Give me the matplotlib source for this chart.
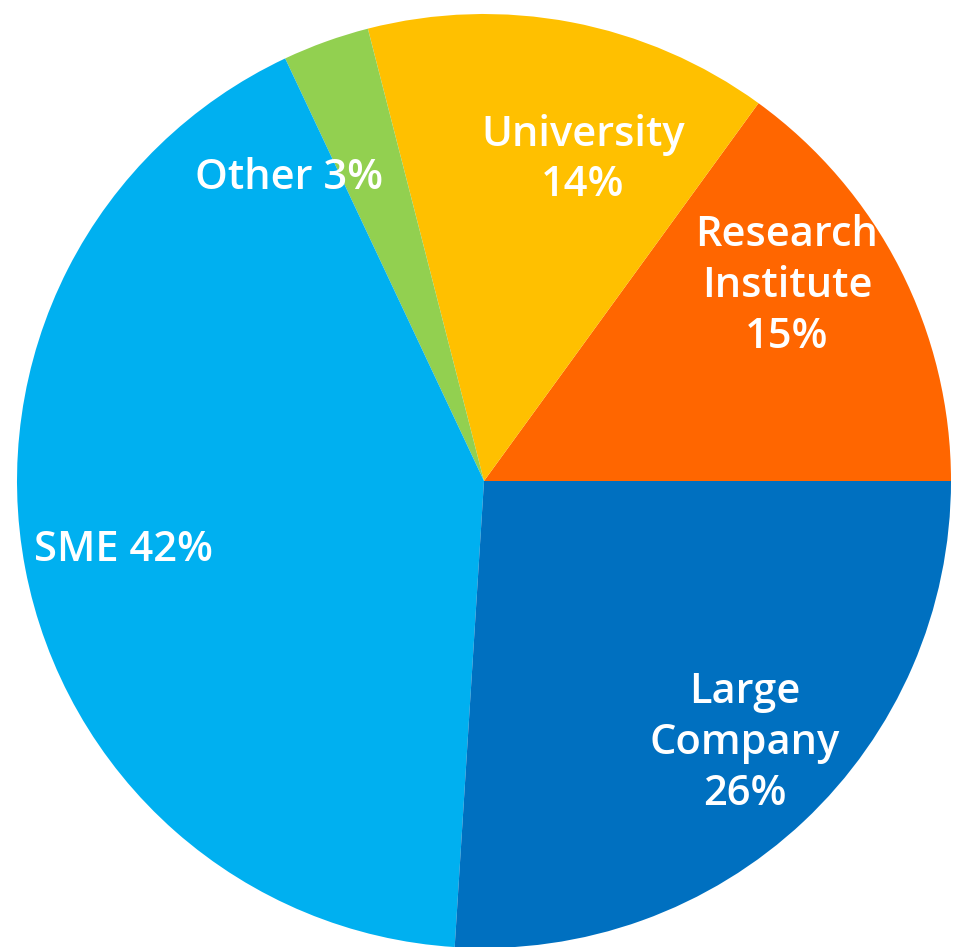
import matplotlib.pyplot as plt

categories = ["Research\nInstitute", "University", "Other", "SME", "Large\nCompany"]
shares = [15, 14, 3, 42, 26]
colors = ["#FF6600", "#FFC000", "#92D050", "#00B0F0", "#0070C0"]

# label anchor in pixel coords of the 955x947 canvas
label_px = [(787, 286), (583, 160), (289, 178), (123, 550), (745, 743)]
W, H = 955, 947
CX, CY, R = 484, 481, 467

fig = plt.figure(figsize=(W / 100, H / 100), dpi=100)
ax = fig.add_axes([0, 0, 1, 1])
ax.pie(shares, colors=colors, startangle=0, counterclock=True,
       radius=1.0, wedgeprops=dict(linewidth=0))
ax.set_xlim(-CX / R, (W - CX) / R)
ax.set_ylim(-(H - CY) / R, CY / R)
ax.set_aspect("auto")
ax.axis("off")

for name, v, (px, py) in zip(categories, shares, label_px):
    if name in ("Other", "SME"):
        txt = f"{name} {v}%"
    else:
        txt = f"{name}\n{v}%"
    ax.text(px / W, 1 - py / H, txt, transform=ax.transAxes,
            ha="center", va="center", color="white", fontsize=30,
            fontweight="semibold", family="Open Sans", linespacing=1.28)

fig.savefig("out.png", dpi=100)
